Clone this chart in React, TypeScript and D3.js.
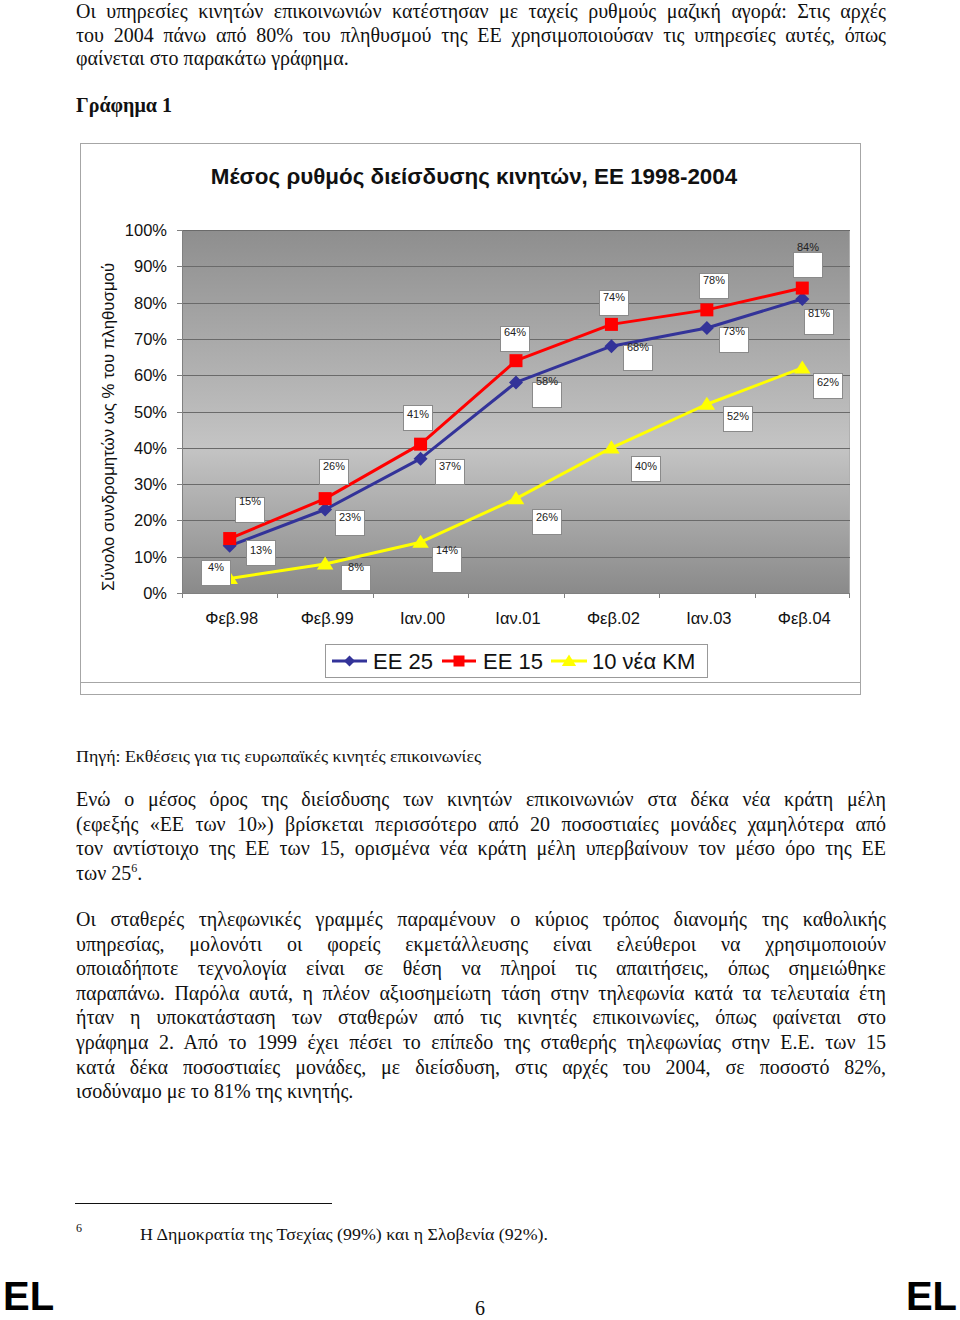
import React, { useLayoutEffect, useRef } from 'react';
import * as d3 from 'd3';

// ---------- data ----------
const categories = ['Φεβ.98', 'Φεβ.99', 'Ιαν.00', 'Ιαν.01', 'Φεβ.02', 'Ιαν.03', 'Φεβ.04'];
const ee25 = [13, 23, 37, 58, 68, 73, 81];
const ee15 = [15, 26, 41, 64, 74, 78, 84];
const new10 = [4, 8, 14, 26, 40, 52, 62];
const yTicks = [0, 10, 20, 30, 40, 50, 60, 70, 80, 90, 100];
const seriesNames = ['ΕΕ 25', 'ΕΕ 15', '10 νέα ΚΜ'];
const chartTitle = 'Μέσος ρυθμός διείσδυσης κινητών, ΕΕ 1998-2004';
const yTitle = 'Σύνολο συνδρομητών ως % του πληθυσμού';

const para1 = [
  'Οι υπηρεσίες κινητών επικοινωνιών κατέστησαν με ταχείς ρυθμούς μαζική αγορά: Στις αρχές',
  'του 2004 πάνω από 80% του πληθυσμού της ΕΕ χρησιμοποιούσαν τις υπηρεσίες αυτές, όπως',
  'φαίνεται στο παρακάτω γράφημα.',
];
const figTitle = 'Γράφημα 1';
const sourceText = 'Πηγή: Εκθέσεις για τις ευρωπαϊκές κινητές επικοινωνίες';
const para2 = [
  'Ενώ ο μέσος όρος της διείσδυσης των κινητών επικοινωνιών στα δέκα νέα κράτη μέλη',
  '(εφεξής «ΕΕ των 10») βρίσκεται περισσότερο από 20 ποσοστιαίες μονάδες χαμηλότερα από',
  'τον αντίστοιχο της ΕΕ των 15, ορισμένα νέα κράτη μέλη υπερβαίνουν τον μέσο όρο της ΕΕ',
];
const para2Last = 'των 25';
const para3 = [
  'Οι σταθερές τηλεφωνικές γραμμές παραμένουν ο κύριος τρόπος διανομής της καθολικής',
  'υπηρεσίας, μολονότι οι φορείς εκμετάλλευσης είναι ελεύθεροι να χρησιμοποιούν',
  'οποιαδήποτε τεχνολογία είναι σε θέση να πληροί τις απαιτήσεις, όπως σημειώθηκε',
  'παραπάνω. Παρόλα αυτά, η πλέον αξιοσημείωτη τάση στην τηλεφωνία κατά τα τελευταία έτη',
  'ήταν η υποκατάσταση των σταθερών από τις κινητές επικοινωνίες, όπως φαίνεται στο',
  'γράφημα 2. Από το 1999 έχει πέσει το επίπεδο της σταθερής τηλεφωνίας στην Ε.Ε. των 15',
  'κατά δέκα ποσοστιαίες μονάδες, με διείσδυση, στις αρχές του 2004, σε ποσοστό 82%,',
];
const para3Last = 'ισοδύναμο με το 81% της κινητής.';
const footnoteMark = '6';
const footnoteText = 'Η Δημοκρατία της Τσεχίας (99%) και η Σλοβενία (92%).';
const pageNumber = '6';
const langCode = 'EL';

// ---------- layout (label box offsets from the point: dx, dy, text offset in box) ----------
const labelLayout: Record<string, number[][]> = {
  ee25: [[16, -6, 10], [10, 0, 7], [14, 0, 7], [16, 0, -1], [12, -1, 2], [12, -1, 4], [2, 10, 4]],
  ee15: [[5, -42, 4], [-6, -40, 7], [-18, -39, 9], [-16, -35, 6], [-12, -34, 7], [-8, -37, 7], [-9, -36, -5]],
  new10: [[-29, -18, 7], [16, 1, 2], [11, 5, 3], [16, 10, 8], [20, 8, 10], [16, 2, 10], [11, 5, 9]],
};

const W = 960;
const H = 1320;
const plot = { left: 182, right: 850, top: 230, bottom: 593 };
const SANS = '"Liberation Sans", Arial, sans-serif';
const SERIF = '"Liberation Serif", "Times New Roman", serif';
const TEXT_LEFT = 76;
const TEXT_WIDTH = 810;

const BLUE = '#333399';
const RED = '#ff0000';
const YELLOW = '#ffff00';

const diamond = (s: number) => `M0,${-s}L${s},0L0,${s}L${-s},0Z`;
const square = (s: number) => `M${-s},${-s}H${s}V${s}H${-s}Z`;
const triangle = (s: number) => `M0,${-s}L${s * 1.1},${s * 0.75}L${-s * 1.1},${s * 0.75}Z`;

export default function App() {
  const ref = useRef<SVGSVGElement>(null);

  const x = d3.scaleBand<string>().domain(categories).range([plot.left, plot.right]);
  const cx = (c: string) => (x(c) as number) + x.bandwidth() / 2;
  const y = d3.scaleLinear().domain([0, 100]).range([plot.bottom, plot.top]);

  const series = [
    { key: 'ee25', name: seriesNames[0], values: ee25, color: BLUE, marker: diamond(7), legendMarker: diamond(5.5) },
    { key: 'ee15', name: seriesNames[1], values: ee15, color: RED, marker: square(6.5), legendMarker: square(5.5) },
    { key: 'new10', name: seriesNames[2], values: new10, color: YELLOW, marker: triangle(7.5), legendMarker: triangle(6.5) },
  ];

  const line = d3
    .line<number>()
    .x((_, i) => cx(categories[i]))
    .y((v) => y(v));

  useLayoutEffect(() => {
    const justify = () => {
      const svg = ref.current;
      if (!svg) return;
      svg.querySelectorAll<SVGTextElement>('text.just').forEach((el) => {
        el.style.wordSpacing = '0px';
        const w = el.getComputedTextLength();
        const spaces = (el.textContent || '').split(' ').length - 1;
        if (spaces > 0) el.style.wordSpacing = `${(TEXT_WIDTH - w) / spaces}px`;
      });
    };
    justify();
    if ((document as any).fonts && (document as any).fonts.ready) {
      (document as any).fonts.ready.then(justify);
    }
  }, []);

  const bodyStyle = { fontFamily: SERIF, fontSize: 20, fill: '#111' };
  const lineStep = 24.6;

  const legendItems = [
    { lx0: 332, lx1: 367, tx: 373 },
    { lx0: 442, lx1: 476, tx: 483 },
    { lx0: 551, lx1: 587, tx: 592 },
  ];

  return (
    <svg
      ref={ref}
      width={W}
      height={H}
      viewBox={`0 0 ${W} ${H}`}
      style={{ position: 'absolute', left: 0, top: 0, background: '#fff' }}
    >
      <defs>
        <linearGradient id="plotBg" x1="0" y1="0" x2="0" y2="1">
          <stop offset="0" stopColor="#8e8e8e" />
          <stop offset="0.6" stopColor="#c4c4c4" />
          <stop offset="1" stopColor="#8a8a8a" />
        </linearGradient>
      </defs>
      <rect x={0} y={0} width={W} height={H} fill="#fff" />

      {/* top paragraph */}
      {para1.map((t, i) => (
        <text
          key={'p1' + i}
          className={i < para1.length - 1 ? 'just' : undefined}
          x={TEXT_LEFT}
          y={18 + i * 23.6}
          style={bodyStyle}
        >
          {t}
        </text>
      ))}
      <text x={TEXT_LEFT} y={112} style={{ ...bodyStyle, fontWeight: 'bold' }}>
        {figTitle}
      </text>

      {/* chart frame */}
      <rect x={80.5} y={143.5} width={780} height={551} fill="#fff" stroke="#a6a6a6" strokeWidth={1} />
      <line x1={80} x2={861} y1={682.5} y2={682.5} stroke="#a6a6a6" strokeWidth={1} />

      <text x={474} y={184} textAnchor="middle" style={{ fontFamily: SANS, fontSize: 22.4, fontWeight: 'bold', fill: '#111' }}>
        {chartTitle}
      </text>

      {/* plot area */}
      <rect
        x={plot.left}
        y={plot.top}
        width={plot.right - plot.left}
        height={plot.bottom - plot.top}
        fill="url(#plotBg)"
      />
      <line x1={plot.right - 0.5} x2={plot.right - 0.5} y1={plot.top} y2={plot.bottom} stroke="#b0b0b0" />
      {yTicks.map((t) => (
        <g key={'g' + t}>
          {t > 0 && (
            <line
              x1={plot.left}
              x2={plot.right}
              y1={Math.round(y(t)) + 0.5}
              y2={Math.round(y(t)) + 0.5}
              stroke="#6a6a6a"
              strokeWidth={1}
            />
          )}
          <line
            x1={plot.left - 5}
            x2={plot.left}
            y1={Math.round(y(t)) + 0.5}
            y2={Math.round(y(t)) + 0.5}
            stroke="#808080"
          />
          <text
            x={167}
            y={y(t) + 6}
            textAnchor="end"
            style={{ fontFamily: SANS, fontSize: 16.5, fill: '#111' }}
          >
            {t + '%'}
          </text>
        </g>
      ))}
      {/* axes */}
      <line x1={plot.left + 0.5} x2={plot.left + 0.5} y1={plot.top} y2={plot.bottom} stroke="#808080" />
      <line x1={plot.left} x2={plot.right} y1={plot.bottom + 0.5} y2={plot.bottom + 0.5} stroke="#808080" />
      {categories.map((c, i) => (
        <g key={'x' + c}>
          <line
            x1={Math.round(x(c) as number) + 0.5}
            x2={Math.round(x(c) as number) + 0.5}
            y1={plot.bottom}
            y2={plot.bottom + 5}
            stroke="#808080"
          />
          {i === categories.length - 1 && (
            <line
              x1={plot.right - 0.5}
              x2={plot.right - 0.5}
              y1={plot.bottom}
              y2={plot.bottom + 5}
              stroke="#808080"
            />
          )}
          <text x={cx(c) + 2} y={624} textAnchor="middle" style={{ fontFamily: SANS, fontSize: 16.5, fill: '#111' }}>
            {c}
          </text>
        </g>
      ))}

      <text
        transform={`translate(114,427) rotate(-90)`}
        textAnchor="middle"
        style={{ fontFamily: SANS, fontSize: 16.8, fill: '#111' }}
      >
        {yTitle}
      </text>

      {/* series */}
      {series.map((s) => (
        <g key={s.key}>
          <path d={line(s.values) || ''} fill="none" stroke={s.color} strokeWidth={3} strokeLinejoin="round" />
          {s.values.map((v, i) => (
            <path key={i} d={s.marker} transform={`translate(${cx(categories[i])},${y(v)})`} fill={s.color} />
          ))}
        </g>
      ))}

      {/* data labels */}
      {series.map((s) =>
        s.values.map((v, i) => {
          const [dx, dy, ty] = labelLayout[s.key][i];
          const bx = Math.round(cx(categories[i]) + dx);
          const by = Math.round(y(v) + dy);
          return (
            <g key={s.key + 'l' + i}>
              <rect x={bx + 0.5} y={by + 0.5} width={29} height={25} fill="#fff" stroke="#8a8a8a" strokeWidth={1} />
              <text
                x={bx + 15}
                y={by + ty + 4}
                textAnchor="middle"
                style={{ fontFamily: SANS, fontSize: 11, fill: '#222' }}
              >
                {v + '%'}
              </text>
            </g>
          );
        })
      )}

      {/* legend */}
      <rect x={325.5} y={644.5} width={382} height={33} fill="#fff" stroke="#999" strokeWidth={1} />
      {series.map((s, i) => {
        const it = legendItems[i];
        const ly = 661;
        return (
          <g key={'leg' + s.key}>
            <line x1={it.lx0} x2={it.lx1} y1={ly} y2={ly} stroke={s.color} strokeWidth={3} />
            <path d={s.legendMarker} transform={`translate(${(it.lx0 + it.lx1) / 2},${ly})`} fill={s.color} />
            <text x={it.tx} y={669} style={{ fontFamily: SANS, fontSize: 22, fill: '#111' }}>
              {s.name}
            </text>
          </g>
        );
      })}

      {/* source */}
      <text x={TEXT_LEFT} y={762} textLength={405} lengthAdjust="spacingAndGlyphs" style={{ fontFamily: SERIF, fontSize: 17, fill: '#111' }}>
        {sourceText}
      </text>

      {/* paragraph 2 */}
      {para2.map((t, i) => (
        <text key={'p2' + i} className="just" x={TEXT_LEFT} y={806 + i * lineStep} style={bodyStyle}>
          {t}
        </text>
      ))}
      <text x={TEXT_LEFT} y={806 + para2.length * lineStep} style={bodyStyle}>
        {para2Last}
        <tspan dy={-8} style={{ fontSize: 12 }}>
          {footnoteMark}
        </tspan>
        <tspan dy={8}>.</tspan>
      </text>

      {/* paragraph 3 */}
      {para3.map((t, i) => (
        <text key={'p3' + i} className="just" x={TEXT_LEFT} y={926 + i * lineStep} style={bodyStyle}>
          {t}
        </text>
      ))}
      <text x={TEXT_LEFT} y={926 + para3.length * lineStep} style={bodyStyle}>
        {para3Last}
      </text>

      {/* footnote */}
      <line x1={75} x2={332} y1={1203.5} y2={1203.5} stroke="#111" strokeWidth={1} />
      <text x={76} y={1232} style={{ fontFamily: SERIF, fontSize: 12, fill: '#111' }}>
        {footnoteMark}
      </text>
      <text x={140} y={1240} textLength={408} lengthAdjust="spacingAndGlyphs" style={{ fontFamily: SERIF, fontSize: 17, fill: '#111' }}>
        {footnoteText}
      </text>

      {/* page footer */}
      <text x={3} y={1310} style={{ fontFamily: SANS, fontSize: 40, fontWeight: 'bold', fill: '#000' }}>
        {langCode}
      </text>
      <text x={957} y={1310} textAnchor="end" style={{ fontFamily: SANS, fontSize: 40, fontWeight: 'bold', fill: '#000' }}>
        {langCode}
      </text>
      <text x={480} y={1315} textAnchor="middle" style={{ fontFamily: SERIF, fontSize: 20, fill: '#111' }}>
        {pageNumber}
      </text>
    </svg>
  );
}
